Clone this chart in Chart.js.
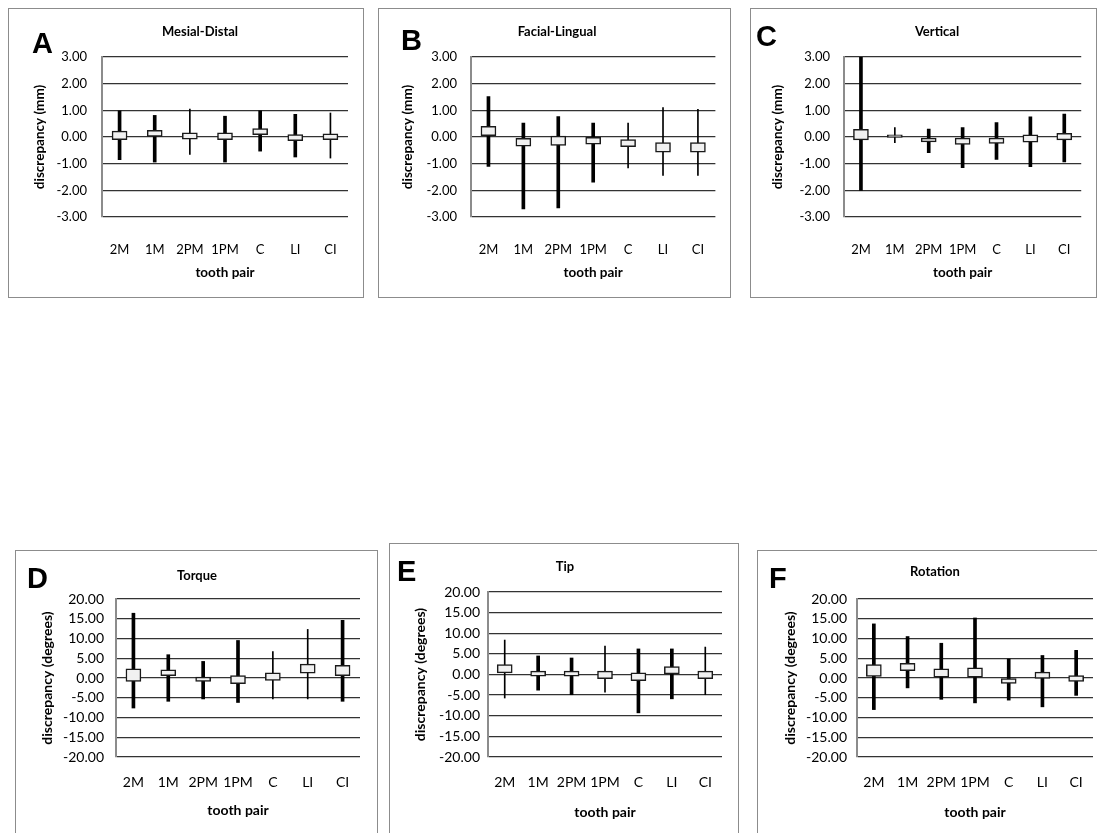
<!DOCTYPE html>
<html>
<head>
<meta charset="utf-8">
<script src="https://cdn.jsdelivr.net/npm/chart.js@4.4.0/dist/chart.umd.min.js"></script>
<style>
  body { margin: 0; background: #fff; width: 1097px; height: 833px; overflow: hidden; position: relative; }
  .panel { position: absolute; border: 1px solid #8c8c8c; box-sizing: border-box; background: #fff; }
  .panel canvas { position: absolute; left: 0; top: 0; }
</style>
</head>
<body>
<script>
// ---------- Data ----------

const toothPairs = ['2M', '1M', '2PM', '1PM', 'C', 'LI', 'CI'];

// A: Mesial-Distal (mm)
const mdMax = [0.98, 0.81, 1.05, 0.78, 0.98, 0.85, 0.90];
const mdMin = [-0.85, -0.94, -0.65, -0.94, -0.53, -0.75, -0.79];
const mdBoxHi = [0.22, 0.25, 0.16, 0.16, 0.32, 0.09, 0.12];
const mdBoxLo = [-0.10, 0.02, -0.08, -0.10, 0.09, -0.14, -0.10];
const mdThin = [0, 0, 1, 0, 0, 0, 1];

// B: Facial-Lingual (mm)
const flMax = [1.52, 0.52, 0.77, 0.52, 0.52, 1.10, 1.04];
const flMin = [-1.10, -2.70, -2.66, -1.69, -1.16, -1.44, -1.44];
const flBoxHi = [0.40, -0.05, 0.03, -0.01, -0.10, -0.21, -0.21];
const flBoxLo = [0.05, -0.34, -0.32, -0.27, -0.36, -0.57, -0.57];
const flThin = [0, 0, 0, 0, 1, 1, 1];

// C: Vertical (mm)
const vtMax = [3.00, 0.35, 0.30, 0.35, 0.54, 0.76, 0.86];
const vtMin = [-2.00, -0.21, -0.59, -1.15, -0.84, -1.11, -0.93];
const vtBoxHi = [0.29, 0.08, -0.04, -0.04, -0.04, 0.08, 0.14];
const vtBoxLo = [-0.11, -0.02, -0.18, -0.28, -0.24, -0.19, -0.11];
const vtThin = [0, 1, 0, 0, 0, 0, 0];

// D: Torque (degrees)
const tqMax = [16.4, 5.9, 4.2, 9.5, 6.7, 12.3, 14.6];
const tqMin = [-7.6, -5.9, -5.3, -6.2, -5.3, -5.3, -5.9];
const tqBoxHi = [2.3, 2.1, 0.25, 0.6, 1.3, 3.5, 3.2];
const tqBoxLo = [-0.85, 0.6, -0.85, -1.45, -0.6, 1.2, 0.6];
const tqThin = [0, 0, 0, 0, 1, 1, 0];

// E: Tip (degrees)
const tpMax = [8.35, 4.5, 4.0, 6.9, 6.2, 6.2, 6.65];
const tpMin = [-5.7, -3.8, -4.9, -4.3, -9.3, -5.9, -4.9];
const tpBoxHi = [2.4, 0.8, 0.8, 0.8, 0.4, 1.95, 0.8];
const tpBoxLo = [0.4, -0.4, -0.4, -1.0, -1.5, 0.0, -1.0];
const tpThin = [1, 0, 0, 1, 0, 0, 1];

// F: Rotation (degrees)
const rtMax = [13.7, 10.5, 8.8, 15.2, 4.8, 5.7, 7.0];
const rtMin = [-8.0, -2.5, -5.4, -6.3, -5.6, -7.3, -4.4];
const rtBoxHi = [3.4, 3.7, 2.3, 2.6, 0.0, 1.5, 0.6];
const rtBoxLo = [0.4, 1.85, 0.2, 0.2, -1.4, -0.1, -0.85];
const rtThin = [0, 0, 0, 0, 0, 0, 0];

// ---------- Panel layout (page pixels) ----------

const TOP_FONTS = { tick: 13, axisTitle: 13.5, title: 13 };
const BOTTOM_FONTS = { tick: 14, axisTitle: 14, title: 13 };

const panels = [
  { letter: 'A', title: 'Mesial-Distal', yTitle: 'discrepancy (mm)', min: -3, max: 3, step: 1,
    hi: mdMax, lo: mdMin, boxHi: mdBoxHi, boxLo: mdBoxLo, thin: mdThin, fonts: TOP_FONTS,
    box: { l: 8, t: 8, r: 363, b: 297 }, plot: { l: 102, t: 57, r: 348, b: 217 },
    tickRight: 87, yTitleX: 40, xLabelY: 250, xTitleY: 273,
    letterX: 32, letterY: 53, titleX: 200, titleY: 32 },
  { letter: 'B', title: 'Facial-Lingual', yTitle: 'discrepancy (mm)', min: -3, max: 3, step: 1,
    hi: flMax, lo: flMin, boxHi: flBoxHi, boxLo: flBoxLo, thin: flThin, fonts: TOP_FONTS,
    box: { l: 378, t: 8, r: 730, b: 297 }, plot: { l: 471, t: 57, r: 720, b: 217 },
    tickRight: 457, yTitleX: 408, xLabelY: 250, xTitleY: 273,
    letterX: 401, letterY: 50, titleX: 557, titleY: 32 },
  { letter: 'C', title: 'Vertical', yTitle: 'discrepancy (mm)', min: -3, max: 3, step: 1,
    hi: vtMax, lo: vtMin, boxHi: vtBoxHi, boxLo: vtBoxLo, thin: vtThin, fonts: TOP_FONTS,
    box: { l: 750, t: 8, r: 1096, b: 297 }, plot: { l: 844, t: 57, r: 1091, b: 217 },
    tickRight: 830, yTitleX: 778, xLabelY: 250, xTitleY: 273,
    letterX: 756, letterY: 46, titleX: 937, titleY: 32 },
  { letter: 'D', title: 'Torque', yTitle: 'discrepancy (degrees)', min: -20, max: 20, step: 5,
    hi: tqMax, lo: tqMin, boxHi: tqBoxHi, boxLo: tqBoxLo, thin: tqThin, fonts: BOTTOM_FONTS,
    box: { l: 15, t: 550, r: 377, b: 845 }, plot: { l: 116, t: 599, r: 360, b: 757 },
    tickRight: 104, yTitleX: 47, xLabelY: 782, xTitleY: 810,
    letterX: 27, letterY: 588, titleX: 197, titleY: 576 },
  { letter: 'E', title: 'Tip', yTitle: 'discrepancy (degrees)', min: -20, max: 20, step: 5,
    hi: tpMax, lo: tpMin, boxHi: tpBoxHi, boxLo: tpBoxLo, thin: tpThin, fonts: BOTTOM_FONTS,
    box: { l: 389, t: 543, r: 738, b: 845 }, plot: { l: 488, t: 592, r: 722, b: 757 },
    tickRight: 480, yTitleX: 420, xLabelY: 782, xTitleY: 812,
    letterX: 397, letterY: 581, titleX: 565, titleY: 567 },
  { letter: 'F', title: 'Rotation', yTitle: 'discrepancy (degrees)', min: -20, max: 20, step: 5,
    hi: rtMax, lo: rtMin, boxHi: rtBoxHi, boxLo: rtBoxLo, thin: rtThin, fonts: BOTTOM_FONTS,
    box: { l: 757, t: 550, r: 1105, b: 845 }, plot: { l: 857, t: 599, r: 1093, b: 757 },
    tickRight: 847, yTitleX: 790, xLabelY: 782, xTitleY: 812,
    letterX: 769, letterY: 588, titleX: 935, titleY: 572 },
];

// ---------- Build one panel ----------

function makePanel(cfg) {
  const div = document.createElement('div');
  div.className = 'panel';
  div.style.left = cfg.box.l + 'px';
  div.style.top = cfg.box.t + 'px';
  div.style.width = (cfg.box.r - cfg.box.l + 1) + 'px';
  div.style.height = (cfg.box.b - cfg.box.t + 1) + 'px';

  const W = cfg.box.r - cfg.box.l - 1;
  const H = cfg.box.b - cfg.box.t - 1;
  const canvas = document.createElement('canvas');
  canvas.width = W;
  canvas.height = H;
  div.appendChild(canvas);
  document.body.appendChild(div);

  const ox = cfg.box.l + 1;
  const oy = cfg.box.t + 1;
  const pl = cfg.plot.l - ox;
  const pt = cfg.plot.t - oy;
  const pr = cfg.plot.r - ox;
  const pb = cfg.plot.b - oy;
  const f = cfg.fonts;
  const tickLH = f.tick * 1.2;
  const titleLH = f.axisTitle * 1.2;

  const range = (a, b, keep) => toothPairs.map((_, i) => (keep(i) ? [a[i], b[i]] : null));

  const panelText = {
    id: 'panelText',
    afterDraw(chart) {
      const ctx = chart.ctx;
      ctx.save();
      ctx.fillStyle = '#000';
      ctx.font = 'bold 29px "Liberation Sans", Arial, sans-serif';
      ctx.textAlign = 'left';
      ctx.textBaseline = 'alphabetic';
      ctx.fillText(cfg.letter, cfg.letterX - ox, cfg.letterY - oy);
      ctx.font = `bold ${f.title}px Lato, sans-serif`;
      ctx.textAlign = 'center';
      ctx.textBaseline = 'middle';
      ctx.fillText(cfg.title, cfg.titleX - ox, cfg.titleY - oy);
      ctx.restore();
    }
  };

  new Chart(canvas, {
    type: 'bar',
    data: {
      labels: toothPairs,
      datasets: [
        {
          label: 'box',
          data: range(cfg.boxLo, cfg.boxHi, () => true),
          backgroundColor: '#f1f1f1',
          borderColor: '#1a1a1a',
          borderWidth: 1.5,
          borderSkipped: false,
          barThickness: 15,
          grouped: false,
          order: 0
        },
        {
          label: 'range',
          data: range(cfg.lo, cfg.hi, (i) => !cfg.thin[i]),
          backgroundColor: '#000',
          barThickness: 3,
          grouped: false,
          order: 1
        },
        {
          label: 'range thin',
          data: range(cfg.lo, cfg.hi, (i) => cfg.thin[i]),
          backgroundColor: '#000',
          barThickness: 1,
          grouped: false,
          order: 2
        }
      ]
    },
    options: {
      responsive: false,
      animation: false,
      devicePixelRatio: 1,
      layout: { padding: { left: 0, top: pt, right: W - pr, bottom: 0 } },
      plugins: { legend: { display: false }, tooltip: { enabled: false } },
      scales: {
        x: {
          grid: { display: false, drawTicks: false },
          border: { display: false },
          ticks: {
            autoSkip: false, maxRotation: 0, color: '#000',
            padding: (cfg.xLabelY - oy) - pb - tickLH / 2,
            font: { family: 'Lato', size: f.tick }
          },
          title: {
            display: true, text: 'tooth pair', color: '#000',
            font: { family: 'Lato', size: f.axisTitle, weight: 'bold' },
            padding: { top: 0, bottom: H - (cfg.xTitleY - oy) - titleLH / 2 }
          },
          afterFit: (s) => { s.height = H - pb; }
        },
        y: {
          min: cfg.min,
          max: cfg.max,
          grid: { color: '#333', lineWidth: 1.3, drawTicks: false },
          border: { display: true, color: '#8c8c8c', width: 2 },
          ticks: {
            stepSize: cfg.step, autoSkip: false, color: '#000',
            padding: pl - (cfg.tickRight - ox),
            font: { family: 'Lato', size: f.tick },
            callback: (v) => v.toFixed(2)
          },
          title: {
            display: true, text: cfg.yTitle, color: '#000',
            font: { family: 'Lato', size: f.axisTitle, weight: 'bold' },
            padding: { top: (cfg.yTitleX - ox) - titleLH / 2, bottom: 0 }
          },
          afterFit: (s) => { s.width = pl; }
        }
      }
    },
    plugins: [panelText]
  });
}

panels.forEach(makePanel);
</script>
</body>
</html>
